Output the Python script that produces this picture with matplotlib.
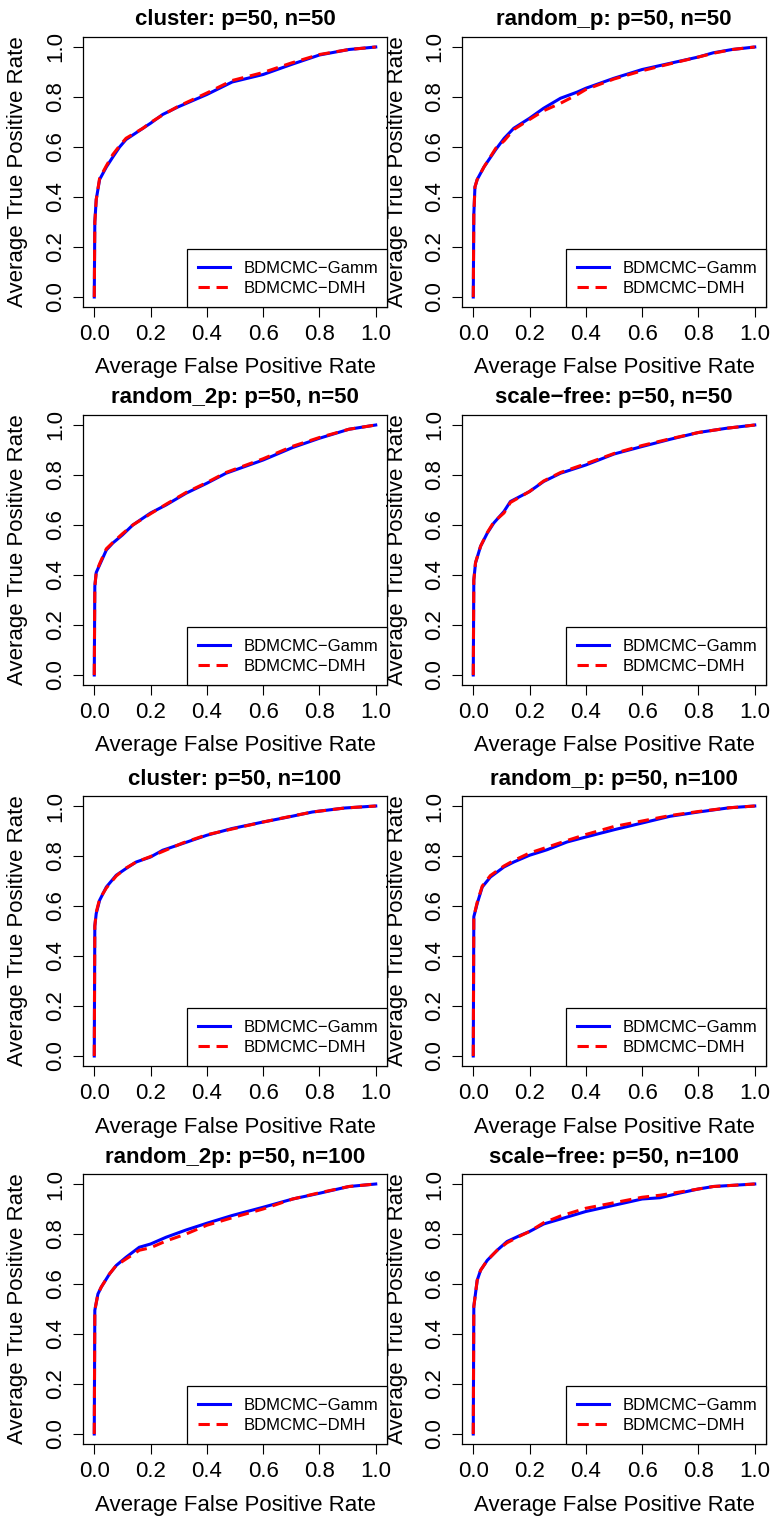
import matplotlib
matplotlib.use("Agg")
import matplotlib.pyplot as plt

plt.rcParams['font.family'] = ['Liberation Sans', 'DejaVu Sans']

titles = ["cluster: p=50, n=50", "random_p: p=50, n=50",
          "random_2p: p=50, n=50", "scale\u2212free: p=50, n=50",
          "cluster: p=50, n=100", "random_p: p=50, n=100",
          "random_2p: p=50, n=100", "scale\u2212free: p=50, n=100"]
legend_labels = ["BDMCMC\u2212Gamm", "BDMCMC\u2212DMH"]
x_label = "Average False Positive Rate"
y_label = "Average True Positive Rate"
tick_vals = [0.0, 0.2, 0.4, 0.6, 0.8, 1.0]
tick_labels = ["0.0", "0.2", "0.4", "0.6", "0.8", "1.0"]

# panel 1: cluster n=50
fpr_1 = [0, 0.002, 0.007, 0.019, 0.043, 0.066, 0.09, 0.113, 0.173, 0.2, 0.243, 0.297, 0.4, 0.49, 0.6, 0.70, 0.8, 0.905, 1.0]
gamm_1 = [0, 0.30, 0.39, 0.47, 0.52, 0.56, 0.60, 0.63, 0.675, 0.695, 0.73, 0.76, 0.81, 0.86, 0.89, 0.93, 0.968, 0.99, 1.0]
dmh_1 = [0, 0.30, 0.39, 0.475, 0.525, 0.57, 0.605, 0.635, 0.675, 0.698, 0.728, 0.762, 0.816, 0.866, 0.898, 0.936, 0.97, 0.99, 1.0]

# panel 2: random_p n=50
fpr_2 = [0, 0.002, 0.006, 0.014, 0.038, 0.08, 0.11, 0.144, 0.2, 0.25, 0.31, 0.37, 0.40, 0.50, 0.6, 0.70, 0.8, 0.853, 0.92, 1.0]
gamm_2 = [0, 0.33, 0.44, 0.47, 0.52, 0.59, 0.635, 0.675, 0.715, 0.755, 0.795, 0.82, 0.835, 0.875, 0.91, 0.935, 0.96, 0.977, 0.99, 1.0]
dmh_2 = [0, 0.33, 0.44, 0.47, 0.52, 0.595, 0.625, 0.67, 0.71, 0.745, 0.775, 0.81, 0.83, 0.872, 0.905, 0.933, 0.96, 0.975, 0.99, 1.0]

# panel 3: random_2p n=50
fpr_3 = [0, 0.002, 0.007, 0.019, 0.043, 0.066, 0.10, 0.137, 0.2, 0.255, 0.326, 0.4, 0.468, 0.6, 0.705, 0.8, 0.905, 1.0]
gamm_3 = [0, 0.355, 0.41, 0.44, 0.50, 0.528, 0.56, 0.60, 0.648, 0.68, 0.727, 0.767, 0.807, 0.86, 0.91, 0.947, 0.983, 1.0]
dmh_3 = [0, 0.355, 0.41, 0.445, 0.505, 0.53, 0.565, 0.60, 0.645, 0.683, 0.73, 0.77, 0.81, 0.865, 0.915, 0.95, 0.983, 1.0]

# panel 4: scale-free n=50
fpr_4 = [0, 0.002, 0.008, 0.026, 0.05, 0.073, 0.109, 0.132, 0.2, 0.25, 0.31, 0.4, 0.5, 0.6, 0.7, 0.8, 0.9, 1.0]
gamm_4 = [0, 0.38, 0.448, 0.515, 0.568, 0.608, 0.654, 0.694, 0.734, 0.774, 0.807, 0.84, 0.884, 0.914, 0.943, 0.97, 0.987, 1.0]
dmh_4 = [0, 0.38, 0.45, 0.515, 0.57, 0.612, 0.648, 0.69, 0.734, 0.776, 0.81, 0.845, 0.886, 0.918, 0.945, 0.97, 0.987, 1.0]

# panel 5: cluster n=100
fpr_5 = [0, 0.002, 0.007, 0.019, 0.043, 0.078, 0.113, 0.149, 0.2, 0.243, 0.314, 0.4, 0.49, 0.6, 0.69, 0.775, 0.89, 1.0]
gamm_5 = [0, 0.52, 0.57, 0.623, 0.676, 0.723, 0.75, 0.776, 0.796, 0.823, 0.85, 0.883, 0.91, 0.936, 0.956, 0.976, 0.992, 1.0]
dmh_5 = [0, 0.52, 0.575, 0.628, 0.672, 0.72, 0.752, 0.776, 0.798, 0.818, 0.852, 0.885, 0.908, 0.936, 0.957, 0.976, 0.992, 1.0]

# panel 6: random_p n=100
fpr_6 = [0, 0.002, 0.014, 0.032, 0.061, 0.109, 0.144, 0.2, 0.262, 0.333, 0.4, 0.5, 0.6, 0.7, 0.8, 0.91, 1.0]
gamm_6 = [0, 0.557, 0.61, 0.676, 0.716, 0.756, 0.776, 0.803, 0.825, 0.856, 0.876, 0.905, 0.932, 0.959, 0.976, 0.993, 1.0]
dmh_6 = [0, 0.557, 0.615, 0.68, 0.722, 0.76, 0.782, 0.812, 0.835, 0.862, 0.886, 0.918, 0.94, 0.962, 0.978, 0.993, 1.0]

# panel 7: random_2p n=100
fpr_7 = [0, 0.002, 0.013, 0.025, 0.054, 0.078, 0.113, 0.16, 0.2, 0.255, 0.326, 0.4, 0.49, 0.6, 0.705, 0.8, 0.905, 1.0]
gamm_7 = [0, 0.495, 0.56, 0.588, 0.64, 0.674, 0.707, 0.747, 0.76, 0.787, 0.816, 0.843, 0.874, 0.907, 0.94, 0.963, 0.99, 1.0]
dmh_7 = [0, 0.495, 0.56, 0.588, 0.64, 0.674, 0.70, 0.735, 0.745, 0.772, 0.80, 0.835, 0.865, 0.90, 0.94, 0.965, 0.99, 1.0]

# panel 8: scale-free n=100
fpr_8 = [0, 0.002, 0.014, 0.026, 0.05, 0.085, 0.12, 0.168, 0.2, 0.25, 0.31, 0.4, 0.5, 0.6, 0.663, 0.734, 0.8, 0.853, 1.0]
gamm_8 = [0, 0.51, 0.615, 0.655, 0.695, 0.735, 0.77, 0.795, 0.81, 0.84, 0.86, 0.89, 0.915, 0.94, 0.945, 0.964, 0.98, 0.99, 1.0]
dmh_8 = [0, 0.51, 0.615, 0.655, 0.695, 0.735, 0.765, 0.793, 0.81, 0.845, 0.872, 0.903, 0.925, 0.947, 0.955, 0.968, 0.98, 0.99, 1.0]

fprs = [fpr_1, fpr_2, fpr_3, fpr_4, fpr_5, fpr_6, fpr_7, fpr_8]
gamms = [gamm_1, gamm_2, gamm_3, gamm_4, gamm_5, gamm_6, gamm_7, gamm_8]
dmhs = [dmh_1, dmh_2, dmh_3, dmh_4, dmh_5, dmh_6, dmh_7, dmh_8]

W, H = 772, 1518
fig = plt.figure(figsize=(W / 100, H / 100), dpi=100)

col_left = [83, 462]
row_top = [37, 415, 796, 1174]
aw, ah = 304, 270
fs = 16

for i in range(8):
    r, c = divmod(i, 2)
    x0 = col_left[c]
    y0 = row_top[r]
    ax = fig.add_axes([x0 / W, 1 - (y0 + ah) / H, aw / W, ah / H])
    ax.plot(fprs[i], gamms[i], color='#0000FF', lw=2.2, solid_joinstyle='round',
            label=legend_labels[0])
    ax.plot(fprs[i], dmhs[i], color='#FF0000', lw=2.2, dashes=(3.7, 2.2),
            label=legend_labels[1])
    ax.set_xlim(-0.04, 1.04)
    ax.set_ylim(-0.04, 1.04)
    ax.set_xticks(tick_vals)
    ax.set_xticklabels(tick_labels)
    ax.set_yticks(tick_vals)
    ax.set_yticklabels(tick_labels, rotation=90, va='center')
    ax.tick_params(direction='out', length=7.2, width=0.8, labelsize=fs, pad=5.2,
                   color='black')
    for sp in ax.spines.values():
        sp.set_linewidth(0.9)
        sp.set_color('black')
    ax.set_xlabel(x_label, fontsize=fs, va='center')
    ax.xaxis.set_label_coords(0.5, -61 / ah)
    ax.set_ylabel(y_label, fontsize=fs, va='center')
    ax.yaxis.set_label_coords(-65 / aw, 0.5)
    ax.text(0.5, 1 + 17 / ah, titles[i], transform=ax.transAxes, ha='center',
            va='center', fontsize=fs, fontweight='bold')
    leg = ax.legend(loc='lower left', bbox_to_anchor=(104 / aw, 0, 1 - 104 / aw, 59 / ah),
                    mode='expand', fontsize=12, frameon=True, fancybox=False,
                    borderaxespad=0, borderpad=0.68, labelspacing=0.3,
                    handlelength=1.9, handletextpad=0.8)
    fr = leg.get_frame()
    fr.set_edgecolor('black')
    fr.set_linewidth(0.9)
    fr.set_alpha(1)

fig.savefig("out.png", dpi=100)
